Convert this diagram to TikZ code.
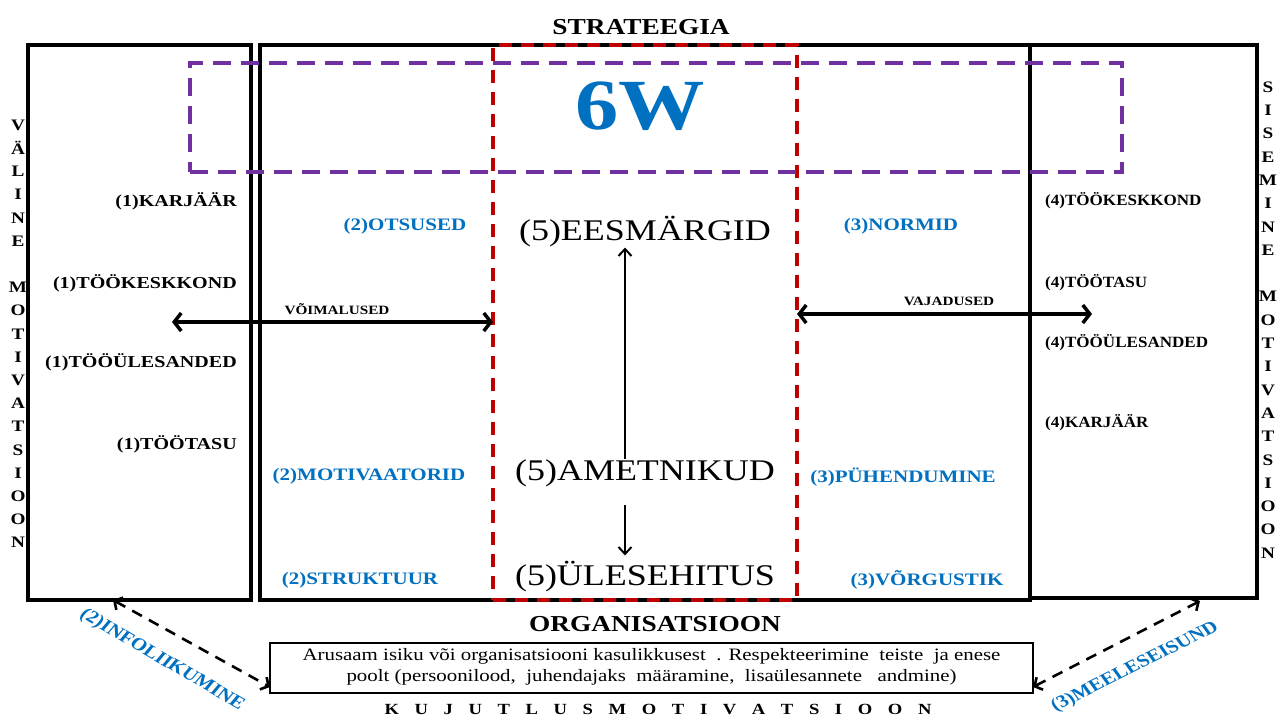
\documentclass[tikz,border=0pt]{standalone}
\usepackage{fontspec}
\setmainfont{Liberation Serif}
\usetikzlibrary{arrows.meta,calc}
\definecolor{wblue}{RGB}{0,112,192}
\definecolor{dred}{RGB}{192,0,0}
\definecolor{dpurple}{RGB}{112,48,160}
\newcommand\widespaced[1]{\spaceskip=0.84em\relax #1}
\begin{document}
\begin{tikzpicture}[x=1pt,y=1pt,
  frame/.style={draw=black, line width=3.3pt, inner sep=0pt, outer sep=0pt, anchor=north west},
  lab/.style={font=\fontsize{16.7}{19}\selectfont\bfseries, inner sep=0pt, xscale=1.2},
  rlab/.style={lab, font=\fontsize{14.2}{17}\selectfont\bfseries, yscale=1.1},
  blab/.style={lab, text=wblue, font=\fontsize{17.5}{20}\selectfont\bfseries},
  title/.style={lab, font=\fontsize{22.8}{26}\selectfont\bfseries},
  big/.style={font=\fontsize{30}{34}\selectfont, inner sep=0pt, xscale=1.2},
  small/.style={lab, font=\fontsize{12.7}{15}\selectfont\bfseries},
  vlet/.style={lab, font=\fontsize{16}{18}\selectfont\bfseries},
  dbl/.style={line width=3.5pt, {Straight Barb[length=7pt,width=18pt]}-{Straight Barb[length=7pt,width=18pt]}},
  dsh/.style={line width=2.6pt, dash pattern=on 11pt off 8pt, {Straight Barb[length=6pt,width=14pt]}-{Straight Barb[length=6pt,width=14pt]}},
  thin/.style={line width=2pt, -{Straight Barb[length=7pt,width=13pt]}}]
\useasboundingbox (0,0) rectangle (1278,-718);
\fill[white] (0,0) rectangle (1278,-718);

% outer frames
\node[frame, minimum width=223pt, minimum height=555pt] (lbox) at (28,-45) {};
\node[frame, minimum width=770pt, minimum height=555pt] (mbox) at (260,-45) {};
\node[frame, minimum width=227pt, minimum height=553pt] (rbox) at (1030,-45) {};
% core (red) and strategy band (purple)
\node[draw=dred, line width=4pt, dash pattern=on 13pt off 9pt, inner sep=0pt, outer sep=0pt,
      minimum width=304pt, minimum height=555pt, anchor=north west] (core) at (493,-45) {};
\node[draw=dpurple, line width=4pt, dash pattern=on 18pt off 10pt, inner sep=0pt, outer sep=0pt,
      minimum width=932pt, minimum height=109pt, anchor=north west] (band) at (190,-63) {};

% headings
\node[title] (strat) at (641,-27) {STRATEEGIA};
\node[lab, text=wblue, font=\fontsize{72}{80}\selectfont\bfseries] (sixw) at (640,-106) {6W};
\node[title] (org) at (655,-624) {ORGANISATSIOON};

% external motivation
\node[lab, anchor=east] (k1) at (237,-201) {(1)KARJÄÄR};
\node[lab, anchor=east] (t1) at (237,-283) {(1)TÖÖKESKKOND};
\node[lab, anchor=east] (u1) at (237,-362) {(1)TÖÖÜLESANDED};
\node[lab, anchor=east] (p1) at (237,-444) {(1)TÖÖTASU};

% internal motivation
\node[rlab, anchor=west] (t4) at (1045,-201) {(4)TÖÖKESKKOND};
\node[rlab, anchor=west] (p4) at (1045,-283) {(4)TÖÖTASU};
\node[rlab, anchor=west] (u4) at (1045,-343) {(4)TÖÖÜLESANDED};
\node[rlab, anchor=west] (k4) at (1045,-423) {(4)KARJÄÄR};

% organisation side labels
\node[blab] (ots) at (405,-226) {(2)OTSUSED};
\node[blab] (mot) at (369,-476) {(2)MOTIVAATORID};
\node[blab] (str) at (360,-580) {(2)STRUKTUUR};
\node[blab] (nor) at (901,-226) {(3)NORMID};
\node[blab] (puh) at (903,-477) {(3)PÜHENDUMINE};
\node[blab] (vor) at (927,-580) {(3)VÕRGUSTIK};

% core labels
\node[big] (eesm) at (645,-232) {(5)EESMÄRGID};
\node[big] (amet) at (645,-473) {(5)AMETNIKUD};
\node[big] (ules) at (645,-577) {(5)ÜLESEHITUS};
\coordinate (ax) at (625,0);
\draw[thin] (amet.north -| ax) -- (eesm.south -| ax);
\draw[thin, shorten <=18pt, shorten >=6pt] (amet.south -| ax) -- (ules.north -| ax);

% opportunities and needs
\coordinate (vl) at (172,-322);
\draw[dbl] (vl) -- (core.west |- vl);
\node[small] (voim) at (337,-309) {VÕIMALUSED};
\coordinate (vr) at (1092,-314);
\draw[dbl] (core.east |- vr) -- (vr);
\node[small] (vaj) at (949,-301) {VAJADUSED};

% imaginative motivation
\node[draw, line width=2.6pt, inner sep=0pt, outer sep=0pt, minimum width=763pt, minimum height=50pt] (desc) at (651.5,-668) {};
\node[inner sep=0pt, align=center, xscale=1.2, font=\fontsize{17.4}{21}\selectfont] (desctxt) at ($(desc.center)+(0,1)$)
  {Arusaam isiku või organisatsiooni kasulikkusest \ . Respekteerimine \ teiste \ ja enese\\
   poolt (persoonilood, \ juhendajaks \ määramine, \ lisaülesannete \ \ andmine)};
\node[lab, font=\fontsize{15.5}{18}\selectfont\bfseries] (kuj) at (658,-709)
  {\widespaced{K U J U T L U S M O T I V A T S I O O N}};

\coordinate (il) at ($(lbox.south west)+(85,0)$);
\coordinate (ir) at ($(rbox.south west)+(170,-3)$);
\draw[dsh] (il) -- ($(desc.south west)+(0,6)$);
\draw[dsh] ($(desc.south east)+(0,6)$) -- (ir);
\node[blab, rotate=-35] (info) at (162,-660) {(2)INFOLIIKUMINE};
\node[blab, rotate=31] (meel) at (1135,-667) {(3)MEELESEISUND};

% vertical titles
\foreach \ch [count=\i] in {V,Ä,L,I,N,E,{},M,O,T,I,V,A,T,S,I,O,O,N}
  \node[vlet] (vm\i) at (18,{-125-23.2*(\i-1)}) {\ch};
\foreach \ch [count=\i] in {S,I,S,E,M,I,N,E,{},M,O,T,I,V,A,T,S,I,O,O,N}
  \node[vlet] (sm\i) at (1268,{-87-23.3*(\i-1)}) {\ch};
\end{tikzpicture}
\end{document}
